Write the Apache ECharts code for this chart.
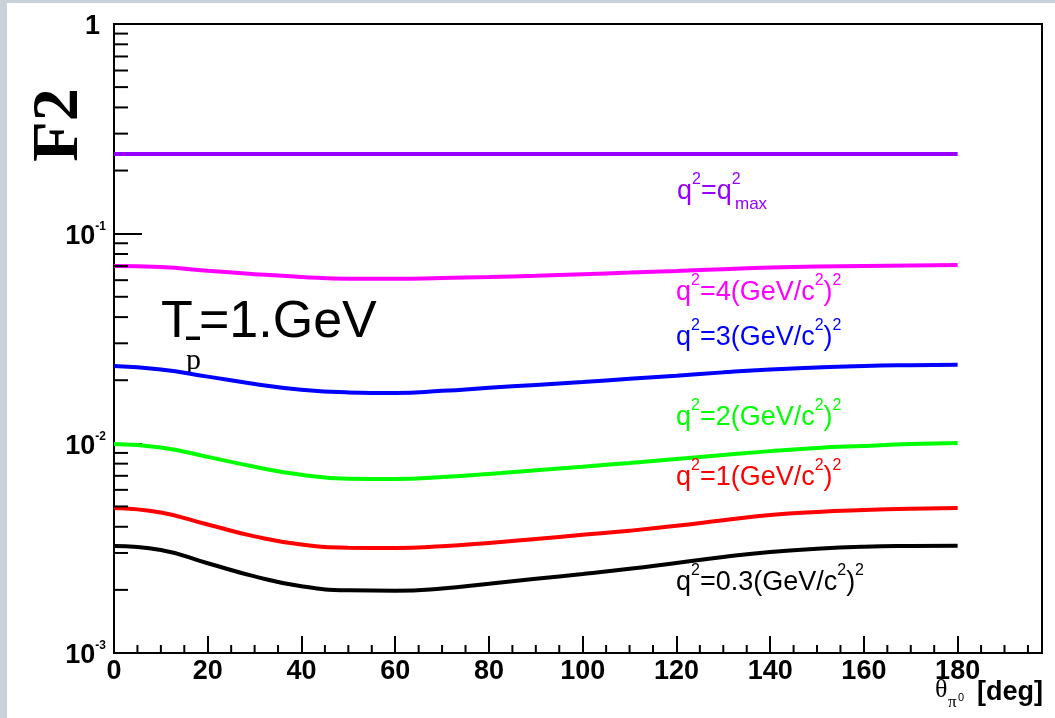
<!DOCTYPE html>
<html><head><meta charset="utf-8">
<script src="https://cdn.jsdelivr.net/npm/echarts@6.0.0/dist/echarts.min.js"></script>
<style>
html,body{margin:0;padding:0;background:#c8d2d8;overflow:hidden;}
#bg{position:absolute;left:7px;top:3px;width:1048px;height:715px;background:#fff;}
#chart{position:absolute;left:0;top:0;width:1055px;height:718px;}
</style></head><body><div id="bg"></div><div id="chart"></div>
<script>
// ---- data ----
const theta = [0,10,20,30,40,50,60,70,80,90,100,110,120,130,140,150,160,170,180];
const F2_qmax = [0.24,0.24,0.24,0.24,0.24,0.24,0.24,0.24,0.24,0.24,0.24,0.24,0.24,0.24,0.24,0.24,0.24,0.24,0.24];
const F2_q4   = [0.0702,0.0694,0.0665,0.0641,0.0622,0.0610,0.0609,0.0614,0.0621,0.0630,0.0641,0.0652,0.0664,0.0677,0.0689,0.0697,0.0702,0.0705,0.0708];
const F2_q3   = [0.0234,0.0225,0.0208,0.0192,0.0180,0.0175,0.0174,0.0178,0.0184,0.0190,0.0196,0.0203,0.0210,0.0218,0.0225,0.0230,0.0234,0.0236,0.0237];
const F2_q2   = [0.00993,0.00955,0.00862,0.00773,0.00708,0.00678,0.00676,0.00690,0.00714,0.00745,0.00774,0.00806,0.00842,0.00880,0.00918,0.00950,0.00972,0.00992,0.01003];
const F2_q1   = [0.00492,0.00468,0.00410,0.00360,0.00329,0.00318,0.00317,0.00323,0.00335,0.00350,0.00366,0.00383,0.00404,0.00430,0.00455,0.00471,0.00481,0.00488,0.00492];
const F2_q03  = [0.00324,0.00310,0.00268,0.00232,0.00208,0.00199,0.00198,0.00203,0.00214,0.00226,0.00238,0.00252,0.00269,0.00287,0.00303,0.00314,0.00321,0.00324,0.00325];

const xMajorTicks = [0,20,40,60,80,100,120,140,160,180];
const xMinorTicks = [5,10,15,25,30,35,45,50,55,65,70,75,85,90,95,105,110,115,125,130,135,145,150,155,165,170,175,185,190,195];
const yMinorTicks = [0.002,0.003,0.004,0.005,0.006,0.007,0.008,0.009,0.02,0.03,0.04,0.05,0.06,0.07,0.08,0.09,0.2,0.3,0.4,0.5,0.6,0.7,0.8,0.9];

const seriesDefs = [
  {name:'qmax', data:F2_qmax, color:'#9600ff'},
  {name:'q4',   data:F2_q4,   color:'#ff00ff'},
  {name:'q3',   data:F2_q3,   color:'#0000ff'},
  {name:'q2',   data:F2_q2,   color:'#00ff00'},
  {name:'q1',   data:F2_q1,   color:'#ff0000'},
  {name:'q03',  data:F2_q03,  color:'#000000'}
];

const SANS = 'Liberation Sans, Arial, sans-serif';
const SERIF = 'Liberation Serif, Times New Roman, serif';

function richFor(color){
  return {
    m:{fontSize:27, fontFamily:SANS, fill:color, lineHeight:40},
    s:{fontSize:16, fontFamily:SANS, fill:color, lineHeight:35, verticalAlign:'top'}
  };
}
function qLabel(text, x, y, color){
  return {type:'text', silent:true, z:10, style:{text:text, x:x, y:y, align:'left', verticalAlign:'middle', rich:richFor(color), fill:color, fontSize:27, fontFamily:SANS}};
}

const chart = echarts.init(document.getElementById('chart'), null, {renderer:'canvas'});

const lineSeries = seriesDefs.map(d => ({
  name:d.name, type:'line', symbol:'none', smooth:0.5,
  data: theta.map((t,i)=>[t, d.data[i]]),
  lineStyle:{color:d.color, width:4}, itemStyle:{color:d.color}, z:3, silent:true
}));

const tickStyle = {stroke:'#000', lineWidth:2};
const minorY = {
  type:'custom', silent:true, z:4, clip:false,
  data: yMinorTicks.map(v=>[0, v]),
  renderItem:(p, api)=>{ const c = api.coord([api.value(0), api.value(1)]);
    return {type:'line', shape:{x1:c[0], y1:c[1], x2:c[0]+14, y2:c[1]}, style:tickStyle}; }
};
const minorX = {
  type:'custom', silent:true, z:4, clip:false,
  data: xMinorTicks.map(v=>[v, 0.001]),
  renderItem:(p, api)=>{ const c = api.coord([api.value(0), api.value(1)]);
    return {type:'line', shape:{x1:c[0], y1:c[1], x2:c[0], y2:c[1]-8}, style:tickStyle}; }
};

const option = {
  animation:false,
  backgroundColor:'transparent',
  grid:{left:114, right:13, top:24, bottom:65, show:true, borderColor:'#000', borderWidth:2, backgroundColor:'transparent'},
  xAxis:{
    type:'value', min:0, max:198, interval:20,
    axisLine:{show:true, lineStyle:{color:'#000', width:2}},
    axisTick:{show:true, inside:true, length:17, lineStyle:{color:'#000', width:2}, customValues:xMajorTicks},
    axisLabel:{show:true, margin:5, color:'#000', fontSize:27, fontWeight:'bold', fontFamily:SANS, customValues:xMajorTicks,
      formatter:v=> (v%20===0 && v<=180) ? String(v) : ''},
    splitLine:{show:false}
  },
  yAxis:{
    type:'log', logBase:10, min:0.001, max:1,
    axisLine:{show:true, lineStyle:{color:'#000', width:2}},
    axisTick:{show:true, inside:true, length:28, lineStyle:{color:'#000', width:2}},
    axisLabel:{show:true, margin:8, color:'#000', padding:[6,0,0,0],
      formatter:v=>{ const e = Math.round(Math.log10(v)); return e===0 ? '{one|1}' : '{b|10}{s|'+e+'}'; },
      rich:{
        b:{fontSize:27, fontWeight:'bold', fontFamily:SANS, color:'#000', lineHeight:32},
        s:{fontSize:12, fontWeight:'bold', fontFamily:SANS, color:'#000', lineHeight:18, verticalAlign:'top'},
        one:{fontSize:27, fontWeight:'bold', fontFamily:SANS, color:'#000', lineHeight:32, padding:[0,6,0,0]}
      }},
    splitLine:{show:false}
  },
  series:[...lineSeries, minorY, minorX],
  graphic:[
    // y axis title
    {type:'text', silent:true, x:60, y:125, rotation:Math.PI/2,
      style:{text:'F2', fontSize:66, fontWeight:'bold', fontFamily:SERIF, fill:'#000', align:'center', verticalAlign:'middle'}},
    // x axis title
    {type:'text', silent:true, style:{text:'θ', x:935, y:703, fontSize:26, fontFamily:SERIF, fill:'#000', align:'left', verticalAlign:'bottom'}},
    {type:'text', silent:true, style:{text:'π', x:948, y:711, fontSize:17, fontFamily:SERIF, fill:'#000', align:'left', verticalAlign:'bottom'}},
    {type:'text', silent:true, style:{text:'0', x:958, y:703, fontSize:11, fontFamily:SANS, fill:'#000', align:'left', verticalAlign:'bottom'}},
    {type:'text', silent:true, style:{text:'[deg]', x:1043, y:693, fontSize:27, fontWeight:'bold', fontFamily:SANS, fill:'#000', align:'right', verticalAlign:'middle'}},
    // T_p annotation
    {type:'text', silent:true, style:{text:'T', x:161, y:323, fontSize:52, fontFamily:SANS, fill:'#000', align:'left', verticalAlign:'middle'}},
    {type:'text', silent:true, style:{text:'=1.GeV', x:199, y:323, fontSize:52, fontFamily:SANS, fill:'#000', align:'left', verticalAlign:'middle'}},
    {type:'rect', silent:true, shape:{x:186, y:336.5, width:14, height:3.5}, style:{fill:'#000'}},
    {type:'text', silent:true, style:{text:'p', x:186, y:361, fontSize:30, fontFamily:SERIF, fill:'#000', align:'left', verticalAlign:'middle'}},
    // curve labels
    qLabel('{m|q}{s|2}{m|=q}{s|2}', 677, 192, '#9600ff'),
    {type:'text', silent:true, style:{text:'max', x:735, y:204, fontSize:17, fontFamily:SANS, fill:'#9600ff', align:'left', verticalAlign:'middle'}},
    qLabel('{m|q}{s|2}{m|=4(GeV/c}{s|2}{m|)}{s|2}', 676, 293, '#ff00ff'),
    qLabel('{m|q}{s|2}{m|=3(GeV/c}{s|2}{m|)}{s|2}', 676, 338, '#0000ff'),
    qLabel('{m|q}{s|2}{m|=2(GeV/c}{s|2}{m|)}{s|2}', 676, 418, '#00ff00'),
    qLabel('{m|q}{s|2}{m|=1(GeV/c}{s|2}{m|)}{s|2}', 676, 478, '#ff0000'),
    qLabel('{m|q}{s|2}{m|=0.3(GeV/c}{s|2}{m|)}{s|2}', 676, 583, '#000000')
  ]
};
chart.setOption(option);
</script>
</body></html>
